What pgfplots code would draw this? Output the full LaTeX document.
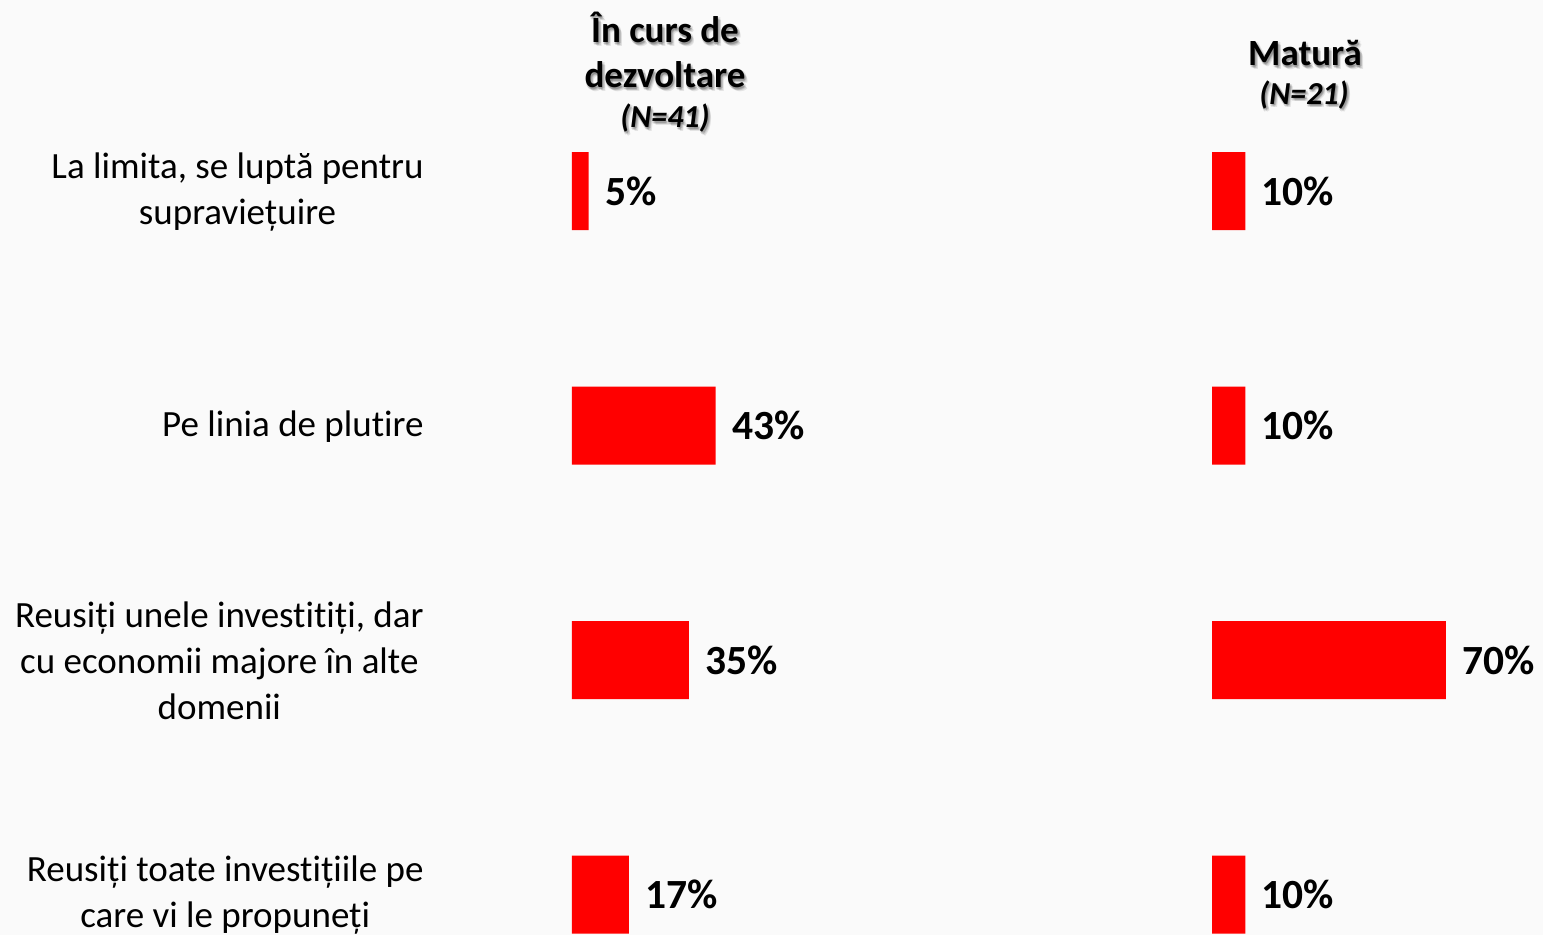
\documentclass[border=0pt]{standalone}
\usepackage{pgfplots}
\pgfplotsset{compat=1.18}
\usepackage{fontspec}
\setmainfont{Carlito}[Ligatures=NoCommon]
\definecolor{bg}{RGB}{250,250,250}
\definecolor{barred}{RGB}{255,0,0}
\newcommand{\ttl}[3]{%
  \foreach \dx/\dy in {0.6/-0.6,1.2/-1.2,1.2/-0.4,0.4/-1.4,1.6/-1.6,0/-0.8}{
    \node[anchor=base, text=black, opacity=0.09, font=#3] at ([xshift=\dx pt,yshift=\dy pt]#1) {#2};}
  \node[anchor=base, text=black, font=#3] at (#1) {#2};}
\begin{document}
\begin{tikzpicture}
\fill[bg] (0,0) rectangle (771.5pt,-467.5pt);
\useasboundingbox (0,0) rectangle (771.5pt,-467.5pt);
\pgfplotsset{
 panel/.style={
  xbar, scale only axis, width=167pt, height=469pt,
  xmin=0, xmax=100, ymin=-0.5, ymax=3.5, y dir=reverse,
  enlargelimits=false,
  axis line style={draw=none}, xtick=\empty, ytick={0,1,2,3}, major tick length=0pt,
  bar width=39pt, clip=false,
  /pgf/number format/assume math mode=true,
  point meta=x,
  nodes near coords={\pgfmathprintnumber{\pgfplotspointmeta}\%},
  every node near coord/.append style={font=\fontsize{20.75}{24}\selectfont\bfseries, anchor=west, inner sep=0pt, xshift=8pt, text=black},
 }
}
\begin{axis}[panel, at={(286pt,-36.875pt)}, anchor=north west,
  yticklabels={{La limita, se luptă pentru\\supraviețuire},{Pe linia de plutire},{Reusiți unele investitiți, dar\\cu economii majore în alte\\domenii},{Reusiți toate investițiile pe\\care vi le propuneți}},
  yticklabel style={anchor=east, align=center, inner sep=0pt, xshift=-74pt, yshift=-0.5pt, font=\fontsize{18.5}{23}\selectfont},
]
\addplot[fill=barred, draw=none] coordinates {(5,0) (43,1) (35,2) (17,3)};
\end{axis}
\begin{axis}[panel, at={(606pt,-36.875pt)}, anchor=north west, yticklabels={}]
\addplot[fill=barred, draw=none] coordinates {(10,0) (10,1) (70,2) (10,3)};
\end{axis}
\ttl{332.5pt,-21.5pt}{În curs de}{\fontsize{18.5}{22}\selectfont\bfseries}
\ttl{332.5pt,-44pt}{dezvoltare}{\fontsize{18.5}{22}\selectfont\bfseries}
\ttl{332.5pt,-64pt}{(N=41)}{\fontsize{16}{20}\selectfont\bfseries\itshape}
\ttl{652.5pt,-33pt}{Matură}{\fontsize{18.5}{22}\selectfont\bfseries}
\ttl{652pt,-52.3pt}{(N=21)}{\fontsize{16}{20}\selectfont\bfseries\itshape}
\end{tikzpicture}
\end{document}
